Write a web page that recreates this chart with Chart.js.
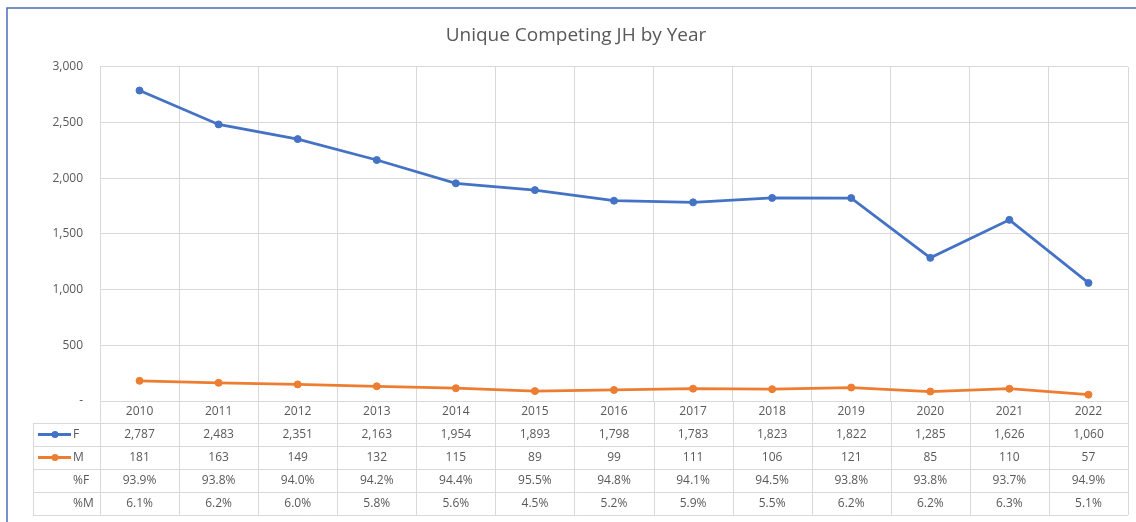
<!DOCTYPE html>
<html>
<head>
<meta charset="utf-8">
<title>Unique Competing JH by Year</title>
<script src="https://cdn.jsdelivr.net/npm/chart.js@4.4.1/dist/chart.umd.min.js"></script>
<style>
  html, body { margin: 0; padding: 0; background: #fff; }
  #wrap { width: 1136px; height: 522px; position: relative; }
</style>
</head>
<body>
<div id="wrap"><canvas id="chart"></canvas></div>
<script>
const years = ["2010", "2011", "2012", "2013", "2014", "2015", "2016", "2017", "2018", "2019", "2020", "2021", "2022"];
const femaleCounts = [2787, 2483, 2351, 2163, 1954, 1893, 1798, 1783, 1823, 1822, 1285, 1626, 1060];
const maleCounts = [181, 163, 149, 132, 115, 89, 99, 111, 106, 121, 85, 110, 57];
const femalePct = [93.9, 93.8, 94.0, 94.2, 94.4, 95.5, 94.8, 94.1, 94.5, 93.8, 93.8, 93.7, 94.9];
const malePct = [6.1, 6.2, 6.0, 5.8, 5.6, 4.5, 5.2, 5.9, 5.5, 6.2, 6.2, 6.3, 5.1];
const yTickValues = [0, 500, 1000, 1500, 2000, 2500, 3000];

const FONT = "'Open Sans', 'Liberation Sans', sans-serif";
const TEXT = "#595959";
const GRID = "#D9D9D9";
const BLUE = "#4472C4";
const ORANGE = "#ED7D31";

const fmt = (n) => n.toLocaleString("en-US");

// 外枠（上と左だけ見えている）と背景
const framePlugin = {
  id: "frame",
  beforeDraw(chart) {
    const { ctx, width, height } = chart;
    ctx.save();
    ctx.fillStyle = "#fff";
    ctx.fillRect(0, 0, width, height);
    ctx.strokeStyle = "#4A6FB8";
    ctx.lineWidth = 1.5;
    ctx.strokeRect(7, 8, width + 10, height + 10);
    ctx.restore();
  },
};

// Excel風のデータテーブル（年・F・M・%F・%M）
const dataTablePlugin = {
  id: "dataTable",
  afterDraw(chart) {
    const { ctx, chartArea } = chart;
    const x = chart.scales.x;
    const colW = x.getPixelForValue(1) - x.getPixelForValue(0);
    const left = chartArea.left;
    const right = chartArea.right;
    const tableLeft = left - 67;
    const headTop = chartArea.bottom;
    const headH = 22;
    const rowH = 23;
    const rowTops = [0, 1, 2, 3, 4].map((i) => headTop + headH + i * rowH);
    const bottom = rowTops[4];

    ctx.save();
    ctx.strokeStyle = GRID;
    ctx.lineWidth = 1;

    // 縦線（列の境界）をテーブル下まで延長
    for (let i = 0; i <= years.length; i++) {
      const px = Math.round(x.getPixelForValue(i) - colW / 2) + 0.5;
      ctx.beginPath();
      ctx.moveTo(px, headTop);
      ctx.lineTo(px, bottom);
      ctx.stroke();
    }
    // テーブルの横線
    rowTops.forEach((ry) => {
      const py = Math.round(ry) + 0.5;
      ctx.beginPath();
      ctx.moveTo(tableLeft, py);
      ctx.lineTo(right, py);
      ctx.stroke();
    });
    ctx.beginPath();
    ctx.moveTo(tableLeft + 0.5, rowTops[0]);
    ctx.lineTo(tableLeft + 0.5, bottom);
    ctx.stroke();

    ctx.fillStyle = TEXT;
    ctx.font = `12px ${FONT}`;
    ctx.textAlign = "center";
    ctx.textBaseline = "middle";

    years.forEach((yr, i) => {
      const cx = x.getPixelForValue(i);
      ctx.fillText(yr, cx, headTop + headH / 2);
      ctx.fillText(fmt(femaleCounts[i]), cx, rowTops[0] + rowH / 2);
      ctx.fillText(fmt(maleCounts[i]), cx, rowTops[1] + rowH / 2);
      ctx.fillText(femalePct[i].toFixed(1) + "%", cx, rowTops[2] + rowH / 2);
      ctx.fillText(malePct[i].toFixed(1) + "%", cx, rowTops[3] + rowH / 2);
    });

    // 行見出し（凡例キー付き）
    const keys = [
      { label: "F", color: BLUE },
      { label: "M", color: ORANGE },
    ];
    keys.forEach((k, r) => {
      const cy = rowTops[r] + rowH / 2;
      ctx.strokeStyle = k.color;
      ctx.lineWidth = 3;
      ctx.beginPath();
      ctx.moveTo(tableLeft + 5, cy);
      ctx.lineTo(tableLeft + 38, cy);
      ctx.stroke();
      ctx.fillStyle = k.color;
      ctx.beginPath();
      ctx.arc(tableLeft + 22, cy, 3.5, 0, Math.PI * 2);
      ctx.fill();
      ctx.fillStyle = TEXT;
      ctx.textAlign = "left";
      ctx.fillText(k.label, tableLeft + 40, cy);
    });
    ctx.textAlign = "left";
    ctx.fillText("%F", tableLeft + 40, rowTops[2] + rowH / 2);
    ctx.fillText("%M", tableLeft + 40, rowTops[3] + rowH / 2);
    ctx.restore();
  },
};

new Chart(document.getElementById("chart"), {
  type: "line",
  data: {
    labels: years,
    datasets: [
      {
        label: "F",
        data: femaleCounts,
        borderColor: BLUE,
        backgroundColor: BLUE,
        borderWidth: 2.75,
        pointRadius: 3.5,
        pointBorderWidth: 1,
        pointHoverRadius: 5,
        tension: 0,
      },
      {
        label: "M",
        data: maleCounts,
        borderColor: ORANGE,
        backgroundColor: ORANGE,
        borderWidth: 2.75,
        pointRadius: 3.5,
        pointBorderWidth: 1,
        pointHoverRadius: 5,
        tension: 0,
      },
    ],
  },
  options: {
    responsive: true,
    maintainAspectRatio: false,
    animation: false,
    layout: {
      // 左の余白でタイトルの中心を右へ寄せる（Y軸幅と合わせて100px）
      padding: { top: 12, right: 8, left: 24, bottom: 0 },
    },
    plugins: {
      legend: { display: false },
      title: {
        display: true,
        text: "Unique Competing JH by Year",
        color: TEXT,
        font: { family: FONT, size: 19, weight: "normal" },
        padding: { top: 12, bottom: 20 },
      },
    },
    scales: {
      x: {
        type: "category",
        offset: true,
        grid: { offset: true, color: GRID, drawTicks: false },
        border: { display: false },
        ticks: { display: false },
        afterFit: (s) => { s.height = 121; },
      },
      y: {
        min: 0,
        max: 3000,
        afterBuildTicks: (s) => { s.ticks = yTickValues.map((v) => ({ value: v })); },
        grid: { color: GRID, drawTicks: false },
        border: { display: false },
        ticks: {
          color: TEXT,
          font: { family: FONT, size: 12 },
          padding: 17,
          callback: (v) => (v === 0 ? "-" : fmt(v)),
        },
        afterFit: (s) => { s.width = 76; },
      },
    },
  },
  plugins: [framePlugin, dataTablePlugin],
});
</script>
</body>
</html>
